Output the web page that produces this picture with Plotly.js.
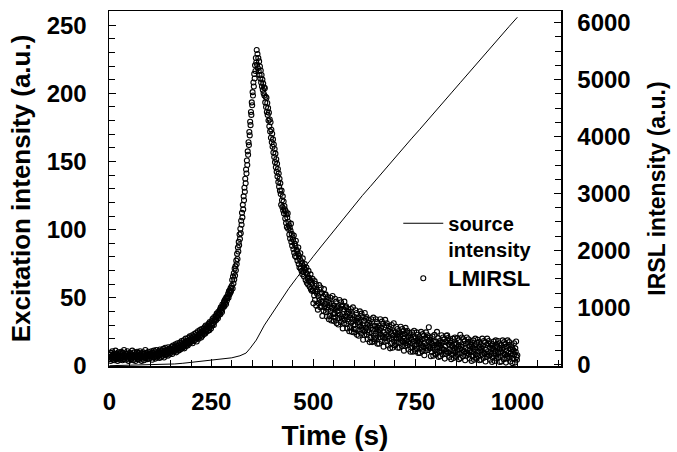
<!DOCTYPE html>
<html><head><meta charset="utf-8">
<script src="https://cdn.plot.ly/plotly-3.0.1.min.js"></script>
<style>html,body{margin:0;padding:0;background:#fff}#chart{width:677px;height:452px}</style>
</head><body><div id="chart"></div>
<script>
// Source (excitation) intensity, left axis (a.u.)
const sourceTime = [0,20,40,60,80,100,120,140,160,180,200,220,240,260,280,300,320,335,345,360,
  380,400,420,440,460,480,500,520,540,560,580,600,
  620,640,660,680,700,720,740,760,780,800,820,840,860,880,900,920,940,960,980,1000];
const sourceIntensity = [0.2,0.3,0.4,0.5,0.6,0.8,1.0,1.2,1.5,2.0,2.7,3.3,4.0,4.6,5.2,6.0,7.5,9.5,13,19,
  30,39,48,57,65,73,80.5,88,95.5,103,110.5,118,
  125,131.8,138.9,145.6,152.7,159.5,166.6,173.3,180.4,187.1,194.1,200.9,207.8,214.8,221.5,228.6,235.3,242.4,249.1,255.8];

// LMIRSL signal, right axis (a.u.), one reading every irslStep seconds from irslStart
const irslStart = 0;
const irslStep = 1;
const irslIntensity = [
  90,170,120,60,200,140,100,230,150,80,
  130,190,70,160,110,240,140,90,180,120,
  60,150,210,100,170,130,80,190,140,220,
  110,160,70,200,130,90,250,150,120,180,
  140,80,190,120,230,100,160,60,170,130,
  200,110,150,90,180,140,240,120,70,160,
  130,210,100,170,60,150,190,120,220,90,
  160,120,200,80,140,230,110,170,130,60,
  190,140,100,210,150,70,180,120,250,110,
  130,200,160,90,170,140,220,100,180,150,
  110,190,150,230,130,80,200,160,120,240,
  170,130,210,100,180,250,150,120,200,160,
  140,230,180,110,260,170,200,130,240,190,
  210,150,270,190,120,240,180,290,160,220,
  250,180,220,150,300,200,260,170,230,280,
  200,270,240,310,180,250,330,220,280,230,
  300,240,350,270,210,320,260,370,290,240,
  330,280,250,380,300,350,270,410,320,290,
  360,300,420,340,280,390,350,450,320,380,
  410,350,330,460,380,420,360,490,400,440,
  390,460,420,510,370,440,490,410,530,450,
  480,430,550,470,400,520,460,580,500,450,
  530,490,600,510,560,470,620,540,500,590,
  560,620,530,650,580,540,680,600,570,660,
  620,680,590,710,640,600,740,660,700,630,
  700,760,680,800,720,770,690,830,750,790,
  800,850,780,890,830,870,810,920,860,900,
  900,960,880,1000,940,980,920,1050,990,1030,
  1040,1100,1020,1130,1080,1150,1060,1180,1120,1160,
  1190,1240,1170,1280,1220,1300,1250,1340,1280,1350,
  1380,1480,1330,1540,1420,1600,1490,1680,1560,1720,
  1650,1820,1760,1940,1850,2050,1980,2150,2090,2280,
  2200,2380,2300,2520,2450,2660,2580,2800,2720,2950,
  2880,3100,3030,3260,3180,3420,3350,3580,3500,3740,
  3680,3900,3850,4080,4020,4260,4200,4430,4380,4600,
  4550,4780,4720,4950,4880,5100,5020,5250,5150,5380,
  5300,5520,5260,5450,5200,5380,5150,5320,5080,5230,
  5020,5160,4950,5080,4880,5000,4820,4930,4760,4860,
  4720,4850,4600,4700,4520,4680,4430,4590,4380,4500,
  4280,4420,4180,4300,4090,4250,3980,4120,3900,4050,
  3820,3950,3720,3860,3640,3780,3550,3700,3460,3600,
  3380,3520,3300,3430,3200,3350,3120,3260,3050,3180,
  2990,2800,3050,2880,2760,2950,2700,2860,2650,2780,
  2720,2560,2690,2480,2630,2410,2580,2650,2380,2500,
  2440,2280,2400,2210,2350,2470,2150,2290,2080,2230,
  2190,2020,2260,1960,2120,1900,2080,2170,1880,2010,
  1990,1820,1940,2050,1760,1900,1700,1850,1950,1680,
  1810,1640,1770,1580,1860,1620,1720,1540,1690,1760,
  1660,1480,1610,1700,1430,1580,1520,1400,1640,1460,
  1520,1360,1480,1580,1320,1450,1290,1410,1500,1300,
  1070,1340,1210,1460,1130,1280,1410,1030,1310,1240,
  1280,960,1200,1070,1390,1130,1240,1000,1350,1100,
  1020,1250,850,1100,1190,940,1320,1000,1060,1220,
  1230,920,1100,840,1000,1180,960,1130,790,1080,
  850,1020,1170,930,770,1060,990,1200,880,820,
  760,1030,900,1150,820,970,1100,720,1000,930,
  1020,700,940,810,1130,870,980,740,1090,840,
  800,1030,630,880,970,720,1100,780,840,1000,
  1020,710,890,630,790,970,750,920,580,870,
  650,820,970,730,570,860,790,1000,680,620,
  560,830,700,950,620,770,900,520,800,730,
  820,500,740,610,930,670,780,540,890,640,
  600,830,430,680,770,520,900,580,640,800,
  830,520,700,440,600,780,560,730,390,680,
  470,640,790,550,390,680,610,820,500,440,
  400,670,540,790,460,610,740,360,640,570,
  680,360,600,470,790,530,640,400,750,500,
  480,710,310,560,650,400,780,460,520,680,
  720,410,590,330,490,670,450,620,280,570,
  370,540,690,450,290,580,510,720,400,340,
  330,560,450,660,380,510,620,290,530,470,
  560,290,490,380,660,430,530,320,620,410,
  390,580,240,460,530,320,640,370,420,560,
  590,330,480,260,390,550,360,510,220,460,
  290,430,560,360,220,470,410,590,320,260,
  230,460,350,560,280,410,520,200,440,380,
  470,200,400,290,570,340,440,230,530,320,
  300,500,160,370,450,240,560,290,340,470,
  510,250,400,650,310,470,280,430,140,380,
  220,360,490,290,150,400,340,520,250,190,
  170,400,290,570,220,350,460,130,370,310,
  410,140,340,230,510,280,380,170,470,260,
  250,440,100,320,390,180,500,230,510,420,
  460,200,350,130,260,420,230,380,90,330,
  170,320,450,240,110,350,290,470,200,150,
  130,360,250,460,180,310,420,90,330,270,
  520,110,310,200,470,250,340,140,440,220,
  220,410,70,290,360,150,470,200,250,390,
  440,170,320,100,240,390,210,350,60,310,
  150,290,420,220,80,330,270,450,170,120,
  100,380,220,430,150,280,390,70,310,250,
  350,80,280,170,450,220,320,110,410,200,
  190,390,50,260,340,130,450,180,230,360,
  410,150,300,80,210,370,180,330,40,280,
  120,270,400,190,60,300,240,420,150,100,
  360,310,200,410,130,260,370,40,280,220,
  330,50,260,150,420,200,290,90,390,170,
  170,360,30,240,310,100,420,150,200,340,
  390,120,270,50,190,340,150,300,20,260,
  100,240,370,170,30,280,220,400,130,80,
  160
];

const xTicks = [0, 250, 500, 750, 1000];
const yTicks = [0, 50, 100, 150, 200, 250];
const y2Ticks = [0, 1000, 2000, 3000, 4000, 5000, 6000];

const xTitle = 'Time (s)';
const yTitle = 'Excitation intensity (a.u.)';
const y2Title = 'IRSL intensity (a.u.)';

const FONT = 'Liberation Sans';
const tickFont = {family: FONT, size: 24, color: '#000', weight: 700};
const bold = v => '<b>' + v + '</b>';

const traces = [
  {
    x: sourceTime, y: sourceIntensity, type: 'scatter', mode: 'lines',
    name: '<b>source<br>intensity</b>', yaxis: 'y',
    line: {color: '#000', width: 1}
  },
  {
    x0: irslStart, dx: irslStep, y: irslIntensity, type: 'scatter', mode: 'markers',
    name: '<b><span style="font-size:22px">LMIRSL</span></b>', yaxis: 'y2',
    marker: {symbol: 'circle-open', size: 5, color: '#000', line: {width: 1.1, color: '#000'}}
  }
];

const layout = {
  width: 677, height: 452,
  margin: {l: 109, r: 116, t: 11, b: 86},
  paper_bgcolor: '#fff', plot_bgcolor: '#fff',
  showlegend: true,
  legend: {
    x: 0.64, y: 0.457, xanchor: 'left', yanchor: 'top',
    bgcolor: 'rgba(0,0,0,0)', borderwidth: 0,
    font: {family: FONT, size: 20, color: '#000', weight: 700},
    valign: 'top', itemwidth: 40, tracegroupgap: 0
  },
  xaxis: {
    range: [-1, 1107], tickmode: 'array', tickvals: xTicks, ticktext: xTicks.map(bold),
    ticks: 'inside', ticklen: 7, tickwidth: 1, tickcolor: '#000',
    minor: {dtick: 50, tick0: 0, ticks: 'inside', ticklen: 6, tickwidth: 1, tickcolor: '#000', showgrid: false},
    showline: true, linecolor: '#000', linewidth: 1.5, mirror: true,
    showgrid: false, zeroline: false,
    tickfont: tickFont, ticklabelstandoff: 14,
    title: {text: '<b>' + xTitle + '</b>', font: {family: FONT, size: 28, color: '#000', weight: 700}, standoff: 11}
  },
  yaxis: {
    range: [0, 260.4], tickmode: 'array', tickvals: yTicks, ticktext: yTicks.map(bold),
    ticks: 'inside', ticklen: 7, tickwidth: 1, tickcolor: '#000',
    minor: {dtick: 10, tick0: 0, ticks: 'inside', ticklen: 6, tickwidth: 1, tickcolor: '#000', showgrid: false},
    showline: true, linecolor: '#000', linewidth: 1.5,
    showgrid: false, zeroline: false,
    tickfont: tickFont, ticklabelstandoff: 16,
    title: {text: '<b>' + yTitle + '</b>', font: {family: FONT, size: 26, color: '#000', weight: 700}, standoff: 8}
  },
  yaxis2: {
    overlaying: 'y', side: 'right',
    range: [-30, 6205], tickmode: 'array', tickvals: y2Ticks, ticktext: y2Ticks.map(bold),
    ticks: 'inside', ticklen: 7, tickwidth: 1, tickcolor: '#000',
    minor: {dtick: 250, tick0: 0, ticks: 'inside', ticklen: 6, tickwidth: 1, tickcolor: '#000', showgrid: false},
    showline: true, linecolor: '#000', linewidth: 1.5,
    showgrid: false, zeroline: false,
    tickfont: tickFont, ticklabelstandoff: 10,
    title: {text: '<b>' + y2Title + '</b>', font: {family: FONT, size: 23, color: '#000', weight: 700}, standoff: 19}
  }
};

Plotly.newPlot('chart', traces, layout, {displayModeBar: false, staticPlot: true});
</script>
</body></html>
